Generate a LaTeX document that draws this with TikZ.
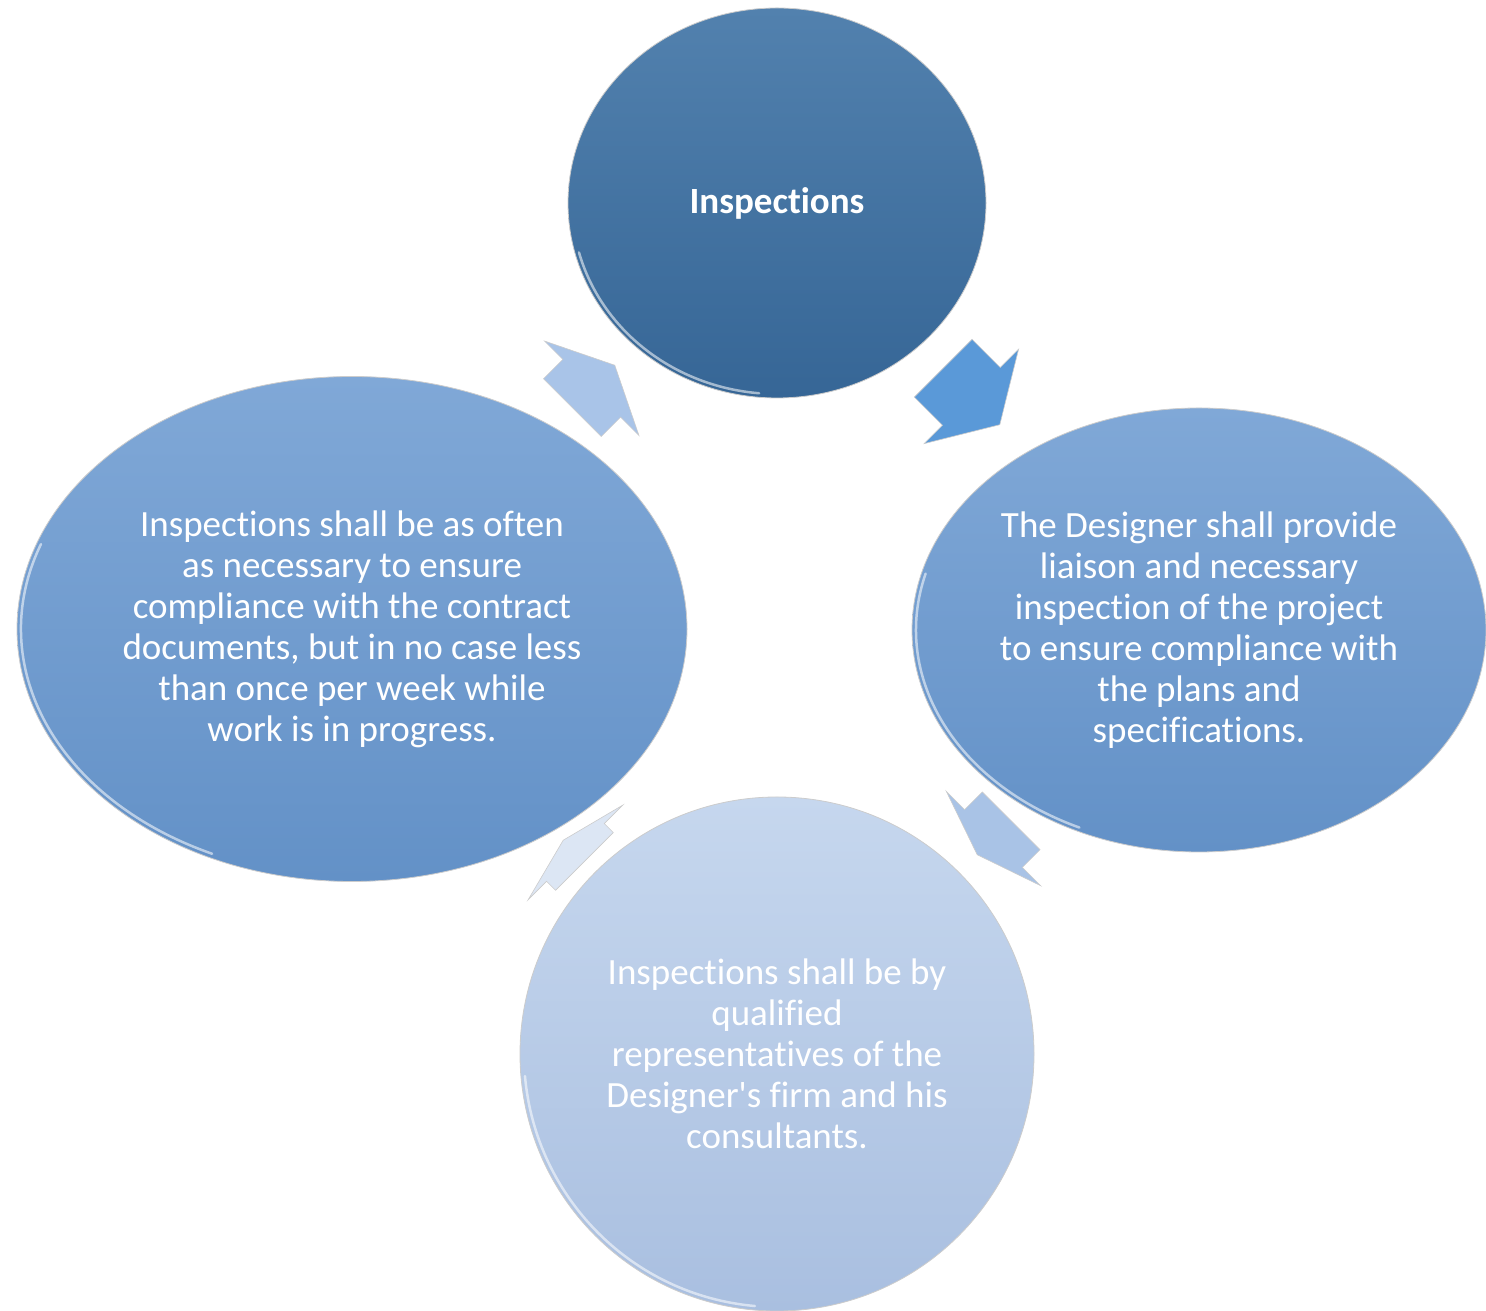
\documentclass[tikz,border=0pt]{standalone}
\usepackage{fontspec}
\setmainfont{Carlito}[Ligatures={NoCommon,NoRare,NoContextual}]
\usepackage{tikz}
\usetikzlibrary{calc}
\usetikzlibrary{shapes.geometric}
\usetikzlibrary{shapes.arrows}

\definecolor{darktop}{HTML}{5281AE}
\definecolor{darkbot}{HTML}{366696}
\definecolor{midtop}{HTML}{80A8D7}
\definecolor{midbot}{HTML}{6391C7}
\definecolor{lighttop}{HTML}{C6D7EE}
\definecolor{lightbot}{HTML}{A9BFE0}
\definecolor{arrowa}{HTML}{5A99D8}
\definecolor{arrowb}{HTML}{A9C3E6}
\definecolor{arrowc}{HTML}{DCE6F4}
\definecolor{arrowd}{HTML}{A9C4E8}

\begin{document}
\begin{tikzpicture}[x=1pt, y=1pt,
  bubble/.style={ellipse, inner sep=0pt, align=center, text=white, draw=gray!40, line width=0.8pt, font=\fontsize{37}{41}\selectfont},
  cyclearrow/.style={single arrow, single arrow head extend=26pt, inner xsep=0pt, inner ysep=40.5pt, draw=gray!40, line width=0.6pt},
  rim/.style={white, line width=2.5pt, opacity=0.55, line cap=round},]
\useasboundingbox (0, 0) rectangle (1486, 1311);
\node[bubble, minimum width=418pt, minimum height=390pt, top color=darktop, bottom color=darkbot] (1) at (777, 1108) {\bfseries Inspections};
\node[bubble, minimum width=574pt, minimum height=444pt, top color=midtop, bottom color=midbot] (2) at (1199, 681)
  {The Designer shall provide\\ liaison and necessary\\ inspection of the project\\ to ensure compliance with\\ the plans and\\ specifications.};
\node[bubble, minimum width=514pt, minimum height=514pt, top color=lighttop, bottom color=lightbot] (3) at (777, 257)
  {Inspections shall be by\\ qualified\\ representatives of the\\ Designer\textquotesingle s firm and his\\ consultants.};
\node[bubble, minimum width=670pt, minimum height=505pt, top color=midtop, bottom color=midbot] (4) at (352, 682)
  {Inspections shall be as often\\ as necessary to ensure\\ compliance with the contract\\ documents, but in no case less\\ than once per week while\\ work is in progress.};
% glossy rims
\draw[rim] ($(1.center)+(195:205 and 191)$) arc[start angle=195, end angle=265, x radius=205, y radius=191];
\draw[rim] ($(2.center)+(165:283 and 218)$) arc[start angle=165, end angle=245, x radius=283, y radius=218];
\draw[rim] ($(3.center)+(185:253 and 253)$) arc[start angle=185, end angle=265, x radius=253, y radius=253];
\draw[rim] ($(4.center)+(160:331 and 248)$) arc[start angle=160, end angle=245, x radius=331, y radius=248];
% arrows between the bubbles
\node[cyclearrow, fill=arrowa, minimum height=80pt, single arrow tip angle=118, rotate=-45, anchor=tip] (5) at (1000, 886) {};
\node[cyclearrow, fill=arrowb, minimum height=48pt, single arrow tip angle=142, rotate=-135, anchor=tip] (6) at (977, 456) {};
\node[cyclearrow, fill=arrowc, minimum height=30pt, single arrow tip angle=151, rotate=135, anchor=tip] (7) at (563, 471) {};
\node[cyclearrow, fill=arrowd, minimum height=60pt, single arrow tip angle=128, rotate=45, anchor=tip] (8) at (615, 946) {};
\end{tikzpicture}
\end{document}
